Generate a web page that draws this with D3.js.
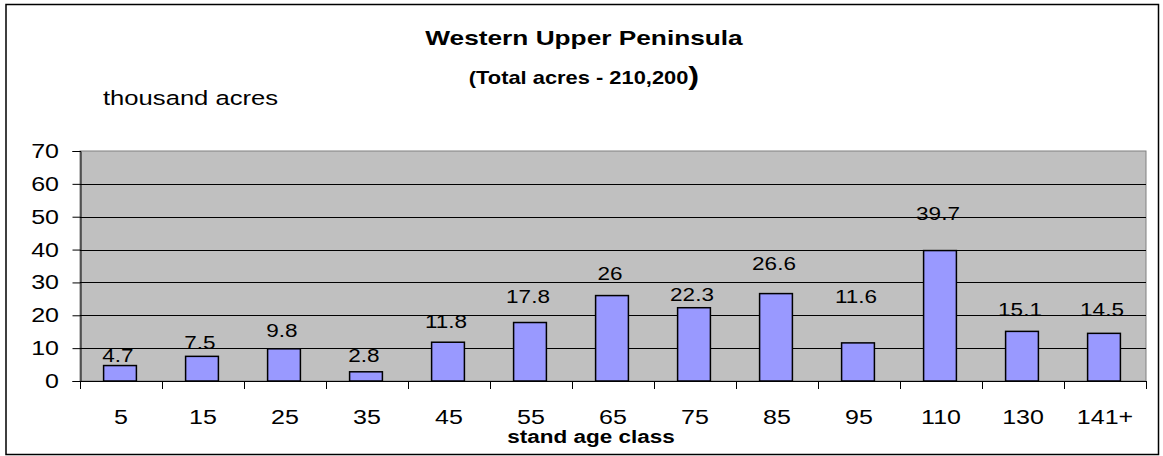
<!DOCTYPE html>
<html>
<head>
<meta charset="utf-8">
<script src="https://cdn.jsdelivr.net/npm/d3@7"></script>
<style>
  html, body { margin: 0; padding: 0; background: #fff; }
  svg { display: block; font-family: "Liberation Sans", Arial, sans-serif; }
</style>
</head>
<body>
<svg id="chart" width="1163" height="456"></svg>
<script>
// ---- data ----
const categories = ["5", "15", "25", "35", "45", "55", "65", "75", "85", "95", "110", "130", "141+"];
const values = [4.7, 7.5, 9.8, 2.8, 11.8, 17.8, 26, 22.3, 26.6, 11.6, 39.7, 15.1, 14.5];
const valueLabels = ["4.7", "7.5", "9.8", "2.8", "11.8", "17.8", "26", "22.3", "26.6", "11.6", "39.7", "15.1", "14.5"];
// axis level (thousand acres) at which each value label sits
const labelLevels = [5.7, 9.7, 13.4, 5.8, 16.1, 23.8, 30.8, 24.4, 33.8, 23.8, 49.0, 19.7, 19.7];
const yTicks = [0, 10, 20, 30, 40, 50, 60, 70];
const titleText = "Western Upper Peninsula";
const subtitleText = "(Total acres - 210,200";
const yUnitText = "thousand acres";
const xTitleText = "stand age class";

// ---- layout ----
const SX = 1.25; // horizontal stretch of the original rendering
const plot = { left: 80, right: 1146, top: 151, bottom: 381 };
const svg = d3.select("#chart");

const x = d3.scaleBand().domain(categories).range([plot.left, plot.right]).padding(0);
const y = d3.scaleLinear().domain([0, 70]).range([plot.bottom, plot.top]);

function stretchedText(parent, px, py, str, size, weight, anchor) {
  return parent.append("g")
    .attr("transform", `translate(${px},${py}) scale(${SX},1)`)
    .append("text")
    .attr("text-anchor", anchor || "middle")
    .attr("font-size", size)
    .attr("font-weight", weight || "normal")
    .attr("fill", "#000")
    .text(str);
}

// outer border
svg.append("rect")
  .attr("x", 6).attr("y", 4.5).attr("width", 1152.5).attr("height", 450)
  .attr("fill", "#fff").attr("stroke", "#000").attr("stroke-width", 1.5);

// plot background
svg.append("rect")
  .attr("x", plot.left).attr("y", plot.top)
  .attr("width", plot.right - plot.left).attr("height", plot.bottom - plot.top)
  .attr("fill", "#c0c0c0").attr("stroke", "#808080").attr("stroke-width", 1);

// gridlines
svg.append("g").selectAll("line").data(yTicks.filter(d => d > 0 && d < 70)).join("line")
  .attr("x1", plot.left).attr("x2", plot.right)
  .attr("y1", d => Math.round(y(d)) + 0.5).attr("y2", d => Math.round(y(d)) + 0.5)
  .attr("stroke", "#000").attr("stroke-width", 1);

// y axis
const yAxis = d3.axisLeft(y).tickValues(yTicks).tickSize(8).tickFormat("");
const yg = svg.append("g").attr("transform", `translate(${plot.left + 0.5},0)`).call(yAxis);
yg.select(".domain").attr("stroke", "#000");
yg.selectAll(".tick line").attr("stroke", "#000");
yTicks.forEach(t => {
  stretchedText(svg, 59, y(t) + 7, String(t), 20, "normal", "end");
});

// x axis (ticks at category boundaries)
const boundaries = categories.map(c => x(c)).concat([plot.right]);
svg.append("line")
  .attr("x1", plot.left).attr("x2", plot.right)
  .attr("y1", plot.bottom + 0.5).attr("y2", plot.bottom + 0.5)
  .attr("stroke", "#000");
svg.append("g").selectAll("line").data(boundaries).join("line")
  .attr("x1", d => Math.round(d) + 0.5).attr("x2", d => Math.round(d) + 0.5)
  .attr("y1", plot.bottom).attr("y2", plot.bottom + 8)
  .attr("stroke", "#000");
categories.forEach(c => {
  stretchedText(svg, x(c) + x.bandwidth() / 2, 424, c, 20);
});

// bars
const barW = x.bandwidth() * 0.4;
svg.append("g").selectAll("rect").data(values).join("rect")
  .attr("x", (d, i) => x(categories[i]) + (x.bandwidth() - barW) / 2 - 1)
  .attr("y", d => y(d))
  .attr("width", barW)
  .attr("height", d => y(0) - y(d))
  .attr("fill", "#9999ff")
  .attr("stroke", "#000")
  .attr("stroke-width", 1.5);

// value labels
values.forEach((v, i) => {
  stretchedText(svg, x(categories[i]) + x.bandwidth() / 2 - 3, y(labelLevels[i]), valueLabels[i], 18);
});

// titles
stretchedText(svg, 584, 45, titleText, 21, "bold");
const sub = stretchedText(svg, 584, 84, subtitleText, 17.5, "bold");
sub.append("tspan").attr("font-size", 26).attr("dy", 1).text(")");
stretchedText(svg, 103, 105, yUnitText, 20.5, "normal", "start");
stretchedText(svg, 591, 443, xTitleText, 18, "bold");
</script>
</body>
</html>
